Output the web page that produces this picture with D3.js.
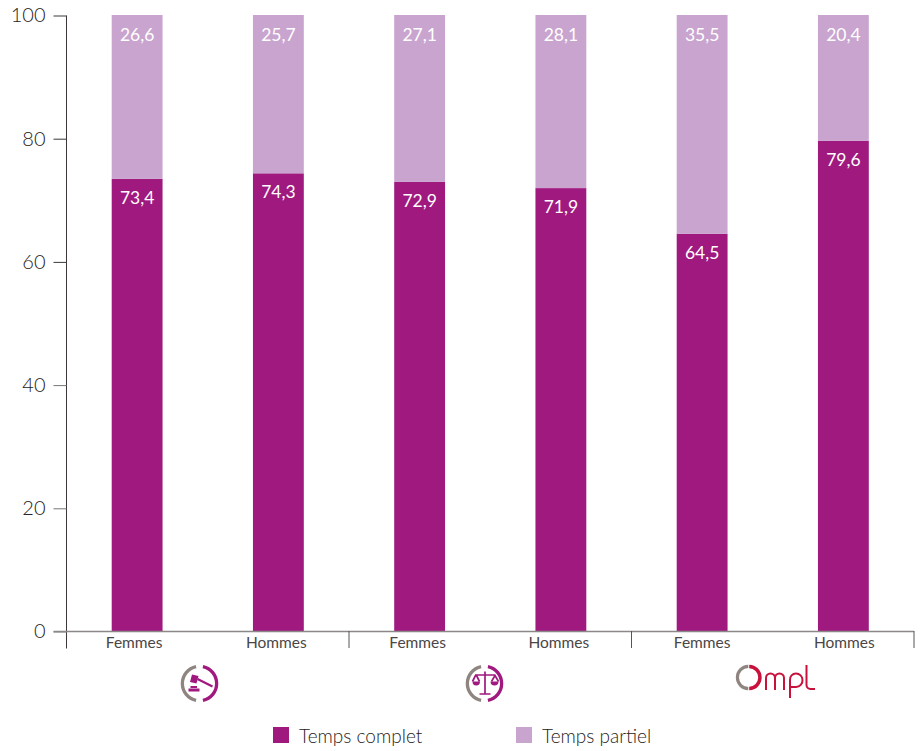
<!DOCTYPE html>
<html><head><meta charset="utf-8">
<script src="https://cdn.jsdelivr.net/npm/d3@7/dist/d3.min.js"></script>
<style>html,body{margin:0;padding:0;background:#fff}svg{display:block}text{font-family:Lato,"Open Sans",sans-serif}</style>
</head><body><svg id="c" width="924" height="751"></svg>
<script>
const categories = ["Femmes","Hommes","Femmes","Hommes","Femmes","Hommes"];
const tempsComplet = [73.4,74.3,72.9,71.9,64.5,79.6];
const tempsPartiel = [26.6,25.7,27.1,28.1,35.5,20.4];
const yTicks = [0,20,40,60,80,100];
const legendLabels = ["Temps complet","Temps partiel"];
const colors = ["#a0197f","#c8a4cf"];
const fmt = v => v.toFixed(1).replace(".",",");

const svg = d3.select("#c");
const L=66.5,R=914,T=15,B=631;
const y = d3.scaleLinear().domain([0,100]).range([B,T]);
const x = d3.scaleBand().domain(d3.range(6)).range([L,R]).paddingInner(0.64).paddingOuter(0.32);
const idx = d3.range(6);

// bars
svg.selectAll("rect.c").data(idx).join("rect").attr("class","c").attr("x",i=>x(i)).attr("width",x.bandwidth())
  .attr("y",i=>y(tempsComplet[i])).attr("height",i=>y(0)-y(tempsComplet[i])).attr("fill",colors[0]);
svg.selectAll("rect.p").data(idx).join("rect").attr("class","p").attr("x",i=>x(i)).attr("width",x.bandwidth())
  .attr("y",i=>y(tempsComplet[i]+tempsPartiel[i])).attr("height",i=>y(tempsComplet[i])-y(tempsComplet[i]+tempsPartiel[i])).attr("fill",colors[1]);
svg.selectAll("text.vc").data(idx).join("text").attr("class","vc").attr("x",i=>x(i)+x.bandwidth()/2)
  .attr("y",i=>y(tempsComplet[i])+25).attr("text-anchor","middle").attr("font-size",17.5).attr("fill","#fff").text(i=>fmt(tempsComplet[i]));
svg.selectAll("text.vp").data(idx).join("text").attr("class","vp").attr("x",i=>x(i)+x.bandwidth()/2)
  .attr("y",y(100)+26).attr("text-anchor","middle").attr("font-size",17.5).attr("fill","#fff").text(i=>fmt(tempsPartiel[i]));

// y axis
const ay = svg.append("g").attr("transform",`translate(${L},0.5)`).call(d3.axisLeft(y).tickValues(yTicks).tickSize(13).tickPadding(8));
ay.select(".domain").attr("stroke","#3c3838").attr("d",`M0,${T}V${B+17}`);
ay.selectAll(".tick line").attr("stroke",d=>d>=60?"#3c3838":"#7a7676").attr("stroke-width",1);
ay.selectAll(".tick text").attr("font-size",20).attr("font-weight",300).attr("fill","#262222").attr("font-family","Lato");

// x axis
const labelShift = [-3,-2,-2,-2,0,1];
const ax = d3.axisBottom(x).tickFormat(i=>categories[i]).tickSize(0).tickPadding(5);
const gx = svg.append("g").attr("transform",`translate(0,${B+0.5})`).call(ax);
gx.select(".domain").attr("stroke","#8c8888").attr("stroke-width",1.5).attr("d",`M${L-13},0H${R}`);
gx.selectAll(".tick text").attr("font-size",15.5).attr("fill","#4a4646").attr("font-family","Lato").attr("dx",i=>labelShift[i]);
const groupX = [L, L+(R-L)/3, L+2*(R-L)/3, R];
svg.selectAll("line.sep").data(groupX.slice(1)).join("line").attr("class","sep").attr("x1",d=>d).attr("x2",d=>d)
  .attr("y1",B).attr("y2",B+17).attr("stroke","#555").attr("stroke-width",1);

// icons
const arc = d3.arc();
function ring(g,r0,r1,col,a0,a1){g.append("path").attr("d",arc({innerRadius:r0,outerRadius:r1,startAngle:a0,endAngle:a1})).attr("fill",col);}
function badge(cx,cy){
  const g=svg.append("g").attr("transform",`translate(${cx},${cy})`);
  ring(g,15.5,18.8,"#8f8580",Math.PI+0.2,2*Math.PI-0.2);
  ring(g,15.5,18.8,colors[0],0.2,Math.PI-0.2);
  return g;
}
const g1=badge(199.5,683.5);
g1.append("path").attr("fill",colors[0]).attr("d","M-7.5,-9L-1,-7.5L-3,0L-9.5,-1.5Z");
g1.append("path").attr("stroke",colors[0]).attr("stroke-width",2.2).attr("d","M-2,-4.5L13,3");
g1.append("path").attr("fill",colors[0]).attr("d","M-9,2.5H-2.5V4.5H-9ZM-11,5H0V8H-11Z");
const g2=badge(484.5,683.5);
g2.append("path").attr("fill","none").attr("stroke",colors[0]).attr("stroke-width",1.7).attr("d","M0.5,-12V10M-5,10.5H6M-9.5,-8.5H11M-9,-8L-12,-2M-8,-8L-5,-2M10.5,-8L7,-2M10.5,-8L14,-2");
g2.append("path").attr("fill",colors[0]).attr("d","M-12,-2H-4.5A3.75,4 0 0 1 -12,-2ZM6,-2H14A4,4 0 0 1 6,-2Z");

// Ompl logo
const red="#c8123c";
const g3=svg.append("g").attr("transform","translate(730,660)");
g3.append("path").attr("d",arc({innerRadius:9.5,outerRadius:12.7,startAngle:Math.PI+0.02,endAngle:2*Math.PI-0.02})).attr("transform","translate(18.5,17.5)").attr("fill","#8f8580");
g3.append("path").attr("d",arc({innerRadius:9.2,outerRadius:12.7,startAngle:0.02,endAngle:Math.PI-0.02})).attr("transform","translate(19,17.5)").attr("fill",red);
g3.append("path").attr("fill","none").attr("stroke",red).attr("stroke-width",2)
  .attr("d","M36,30V18A4.5,4.5 0 0 1 45,18V30M45,18A4.5,4.5 0 0 1 54,18V30M60,38V20A6,6 0 0 1 66,13.5A6.5,6.5 0 0 1 72.5,20A6.5,6.5 0 0 1 66,27H60M76.5,5V25A4,4 0 0 0 80.5,29H85");

// legend
const legX=[273,516];
svg.selectAll("rect.l").data(legendLabels).join("rect").attr("class","l").attr("x",(d,i)=>legX[i]).attr("y",727).attr("width",16).attr("height",16).attr("fill",(d,i)=>colors[i]);
svg.selectAll("text.l").data(legendLabels).join("text").attr("class","l").attr("x",(d,i)=>legX[i]+26).attr("y",743).attr("font-size",19).attr("font-weight",300).attr("fill","#262222").text(d=>d);
</script></body></html>
